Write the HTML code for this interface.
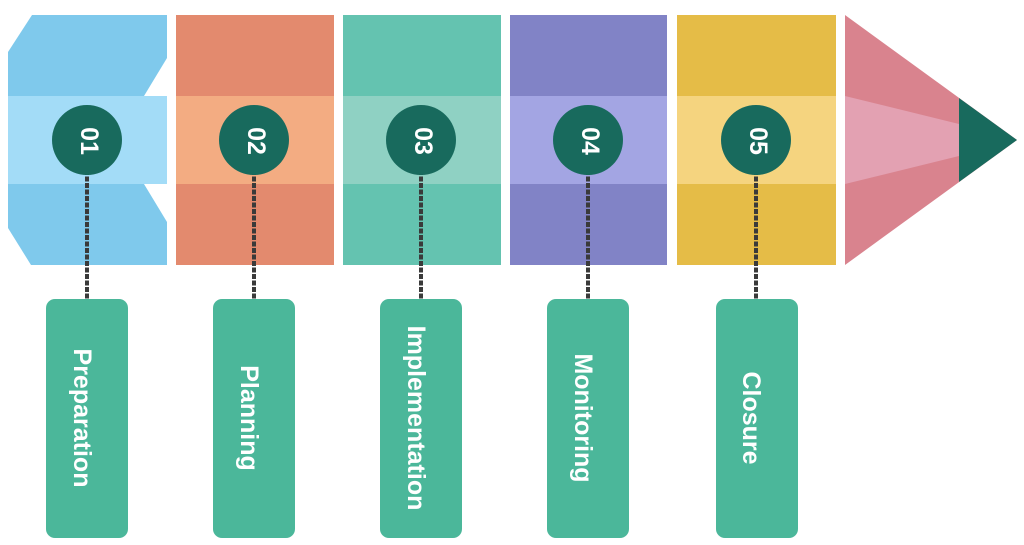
<!DOCTYPE html>
<html><head><meta charset="utf-8"><style>
html,body{margin:0;padding:0;background:#fff;}
svg{display:block;}
text{font-family:"Liberation Sans","DejaVu Sans",sans-serif;font-weight:bold;fill:#fff;}
</style></head><body>
<svg width="1024" height="545" viewBox="0 0 1024 545" xmlns="http://www.w3.org/2000/svg">
<polygon points="32,15 167,15 167,58 144,96 8,96 8,52" fill="#7fc9ec"/>
<rect x="8" y="96" width="159" height="88" fill="#a3dcf7"/>
<polygon points="8,184 144,184 167,222 167,265 31,265 8,228" fill="#7fc9ec"/>
<rect x="176" y="15" width="158" height="250" fill="#e38a6e"/>
<rect x="176" y="96" width="158" height="88" fill="#f3ac82"/>
<rect x="343" y="15" width="158" height="250" fill="#64c3b0"/>
<rect x="343" y="96" width="158" height="88" fill="#8fd1c3"/>
<rect x="510" y="15" width="157" height="250" fill="#8183c6"/>
<rect x="510" y="96" width="157" height="88" fill="#a3a5e3"/>
<rect x="677" y="15" width="159" height="250" fill="#e5bc47"/>
<rect x="677" y="96" width="159" height="88" fill="#f5d47f"/>
<polygon points="845,15 1017,140 845,265" fill="#d9838e"/>
<polygon points="845,96 959,124 959,156 845,184" fill="#e3a1b2"/>
<polygon points="959,98 1017,140 959,182" fill="#186a5d"/>
<g stroke="#3a3a3a" stroke-width="4" stroke-dasharray="5,1.5">
<line x1="87" y1="170" x2="87" y2="299"/>
<line x1="254" y1="170" x2="254" y2="299"/>
<line x1="421" y1="170" x2="421" y2="299"/>
<line x1="588" y1="170" x2="588" y2="299"/>
<line x1="756" y1="170" x2="756" y2="299"/>
</g>
<g fill="#186a5d">
<circle cx="87" cy="140" r="35"/>
<circle cx="254" cy="140" r="35"/>
<circle cx="421" cy="140" r="35"/>
<circle cx="588" cy="140" r="35"/>
<circle cx="756" cy="140" r="35"/>
</g>
<g font-size="25" text-anchor="middle" dominant-baseline="central">
<text transform="translate(89,141) rotate(90)">01</text>
<text transform="translate(256,141) rotate(90)">02</text>
<text transform="translate(423,141) rotate(90)">03</text>
<text transform="translate(590,141) rotate(90)">04</text>
<text transform="translate(758,141) rotate(90)">05</text>
</g>
<g fill="#4bb79a">
<rect x="46" y="299" width="82" height="239" rx="9"/>
<rect x="213" y="299" width="82" height="239" rx="9"/>
<rect x="380" y="299" width="82" height="239" rx="9"/>
<rect x="547" y="299" width="82" height="239" rx="9"/>
<rect x="716" y="299" width="82" height="239" rx="9"/>
</g>
<g font-size="25" text-anchor="middle" dominant-baseline="central">
<text transform="translate(82,418) rotate(90)">Preparation</text>
<text transform="translate(249,418) rotate(90)">Planning</text>
<text transform="translate(416,418) rotate(90)">Implementation</text>
<text transform="translate(583,418) rotate(90)">Monitoring</text>
<text transform="translate(751,418) rotate(90)">Closure</text>
</g>
</svg>
</body></html>
